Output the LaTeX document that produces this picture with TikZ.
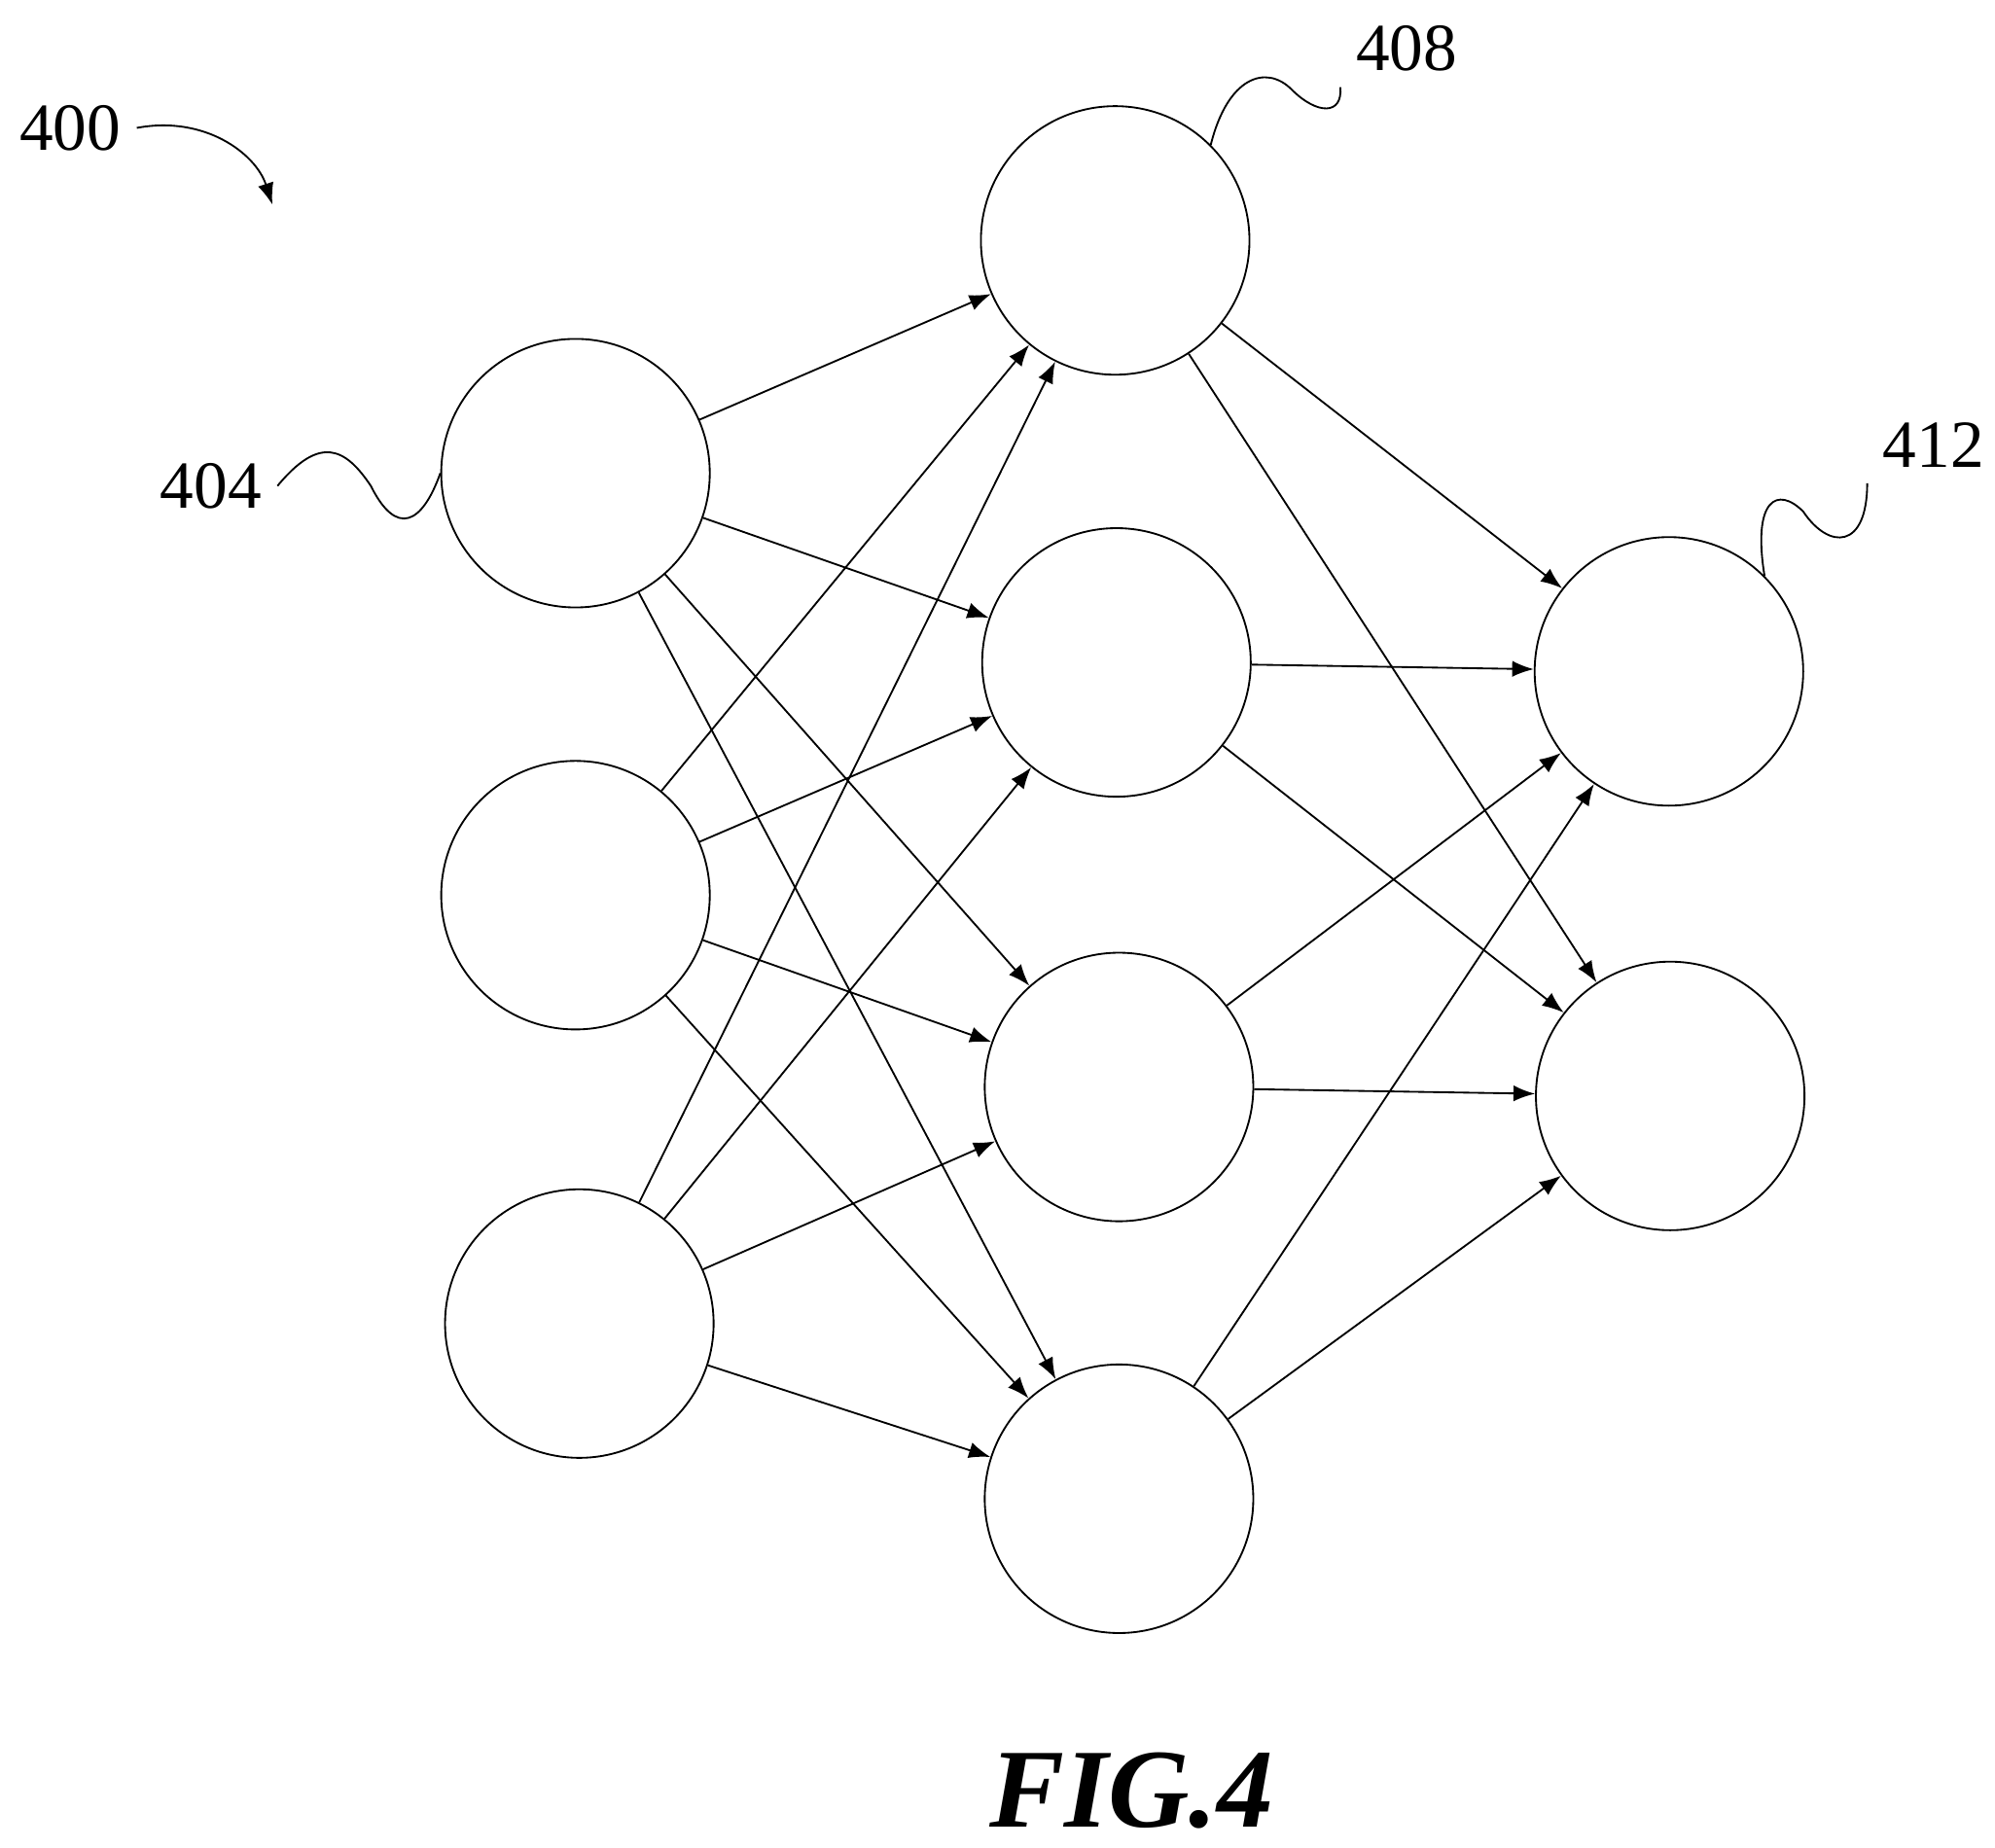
\documentclass[tikz,border=0pt]{standalone}
\usepackage{fontspec}
\setmainfont{Liberation Serif}
\usetikzlibrary{arrows.meta,positioning}
\begin{document}
\begin{tikzpicture}[
  >=Latex,
  every node/.style={font=\fontsize{15}{18}\selectfont},
  neuron/.style={draw, circle, thin, minimum size=2.1cm, inner sep=0pt},
  link/.style={->, thin},
]
\useasboundingbox (0,0) rectangle (15.6,-14.45);
% input layer
\node[neuron] (in1) at (4.50,-3.70) {};
\node[neuron] (in2) at (4.50,-7.00) {};
\node[neuron] (in3) at (4.53,-10.35) {};
% hidden layer
\node[neuron] (hid1) at (8.72,-1.88) {};
\node[neuron] (hid2) at (8.73,-5.18) {};
\node[neuron] (hid3) at (8.75,-8.50) {};
\node[neuron] (hid4) at (8.75,-11.72) {};
% output layer
\node[neuron] (out1) at (13.05,-5.25) {};
\node[neuron] (out2) at (13.06,-8.57) {};
\foreach \i in {1,2,3}
  \foreach \j in {1,2,3,4}
    \draw[link] (in\i) -- (hid\j);
\foreach \j in {1,2,3,4}
  \foreach \k in {1,2}
    \draw[link] (hid\j) -- (out\k);
% reference numerals
\node (n400) at (0.55,-1.00) {400};
\draw[->] (n400.east) .. controls (1.6,-0.9) and (2.0,-1.2) .. (2.13,-1.60);
\node (n404) at (1.65,-3.80) {404};
\draw (n404.east) .. controls (2.5,-3.4) and (2.7,-3.5) .. (2.9,-3.8)
  .. controls (3.1,-4.2) and (3.3,-4.1) .. (in1.west);
\node (n408) at (11.00,-0.38) {408};
\draw (hid1.north east) .. controls (9.6,-0.6) and (9.9,-0.5) .. (10.1,-0.7)
  .. controls (10.3,-0.9) and (10.5,-0.9) .. (n408.south west);
\node (n412) at (15.12,-3.48) {412};
\draw (out1.north east) .. controls (13.7,-3.9) and (13.9,-3.8) .. (14.1,-4.0)
  .. controls (14.3,-4.3) and (14.6,-4.3) .. (n412.south west);
\node[font=\fontsize{25}{28}\selectfont\bfseries\itshape] (fig) at (8.85,-14.0) {FIG.4};
\end{tikzpicture}
\end{document}
